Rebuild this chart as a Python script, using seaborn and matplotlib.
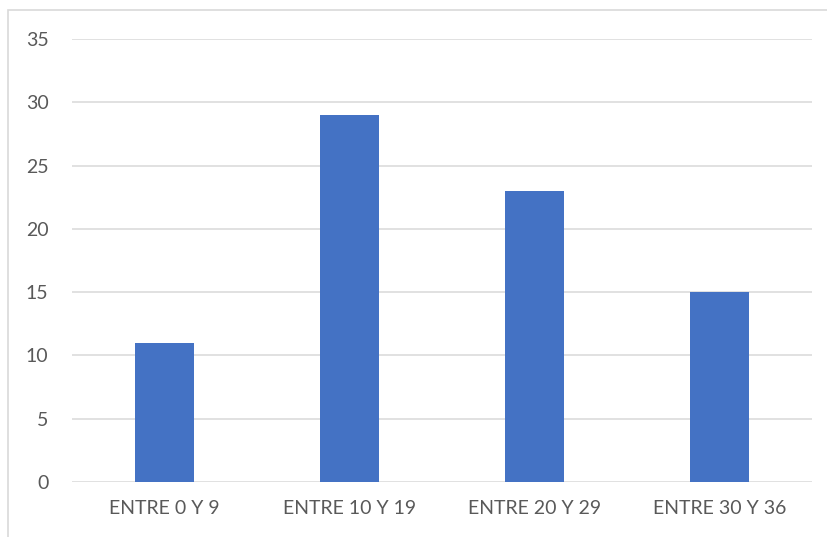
import matplotlib
matplotlib.use("Agg")
import matplotlib.pyplot as plt
import seaborn as sns
import pandas as pd
from matplotlib.patches import Rectangle

# data
categorias = ["ENTRE 0 Y 9", "ENTRE 10 Y 19", "ENTRE 20 Y 29", "ENTRE 30 Y 36"]
valores = [11, 29, 23, 15]
yticks = [0, 5, 10, 15, 20, 25, 30, 35]

df = pd.DataFrame({"rango": categorias, "valor": valores})

sns.set_theme(style="white")
plt.rcParams["font.family"] = ["Lato", "DejaVu Sans"]

fig = plt.figure(figsize=(8.27, 5.37), dpi=100)
ax = fig.add_axes([72 / 827, 1 - 482 / 537, 740 / 827, 443 / 537])

sns.barplot(data=df, x="rango", y="valor", color="#4472C4", saturation=1,
            width=0.315, linewidth=0, ax=ax, zorder=3)

ax.set_ylim(0, 35)
ax.set_yticks(yticks)
ax.set_xlim(-0.5, len(categorias) - 0.5)
ax.grid(axis="y", color="#d9d9d9", linewidth=1.1, zorder=0)
ax.set_axisbelow(True)
for s in ax.spines.values():
    s.set_visible(False)
ax.set_xlabel("")
ax.set_ylabel("")
ax.tick_params(axis="y", length=0, pad=17, labelsize=14, labelcolor="#595959")
ax.tick_params(axis="x", length=0, pad=13, labelsize=14, labelcolor="#595959")

# chart border (cropped on right and bottom in the reference)
fig.patches.append(Rectangle((8 / 827, -0.1), 1.2, 1 - 10 / 537 + 0.1,
                             transform=fig.transFigure, fill=False,
                             edgecolor="#d9d9d9", linewidth=1.2))

fig.savefig("out.png", dpi=100)
